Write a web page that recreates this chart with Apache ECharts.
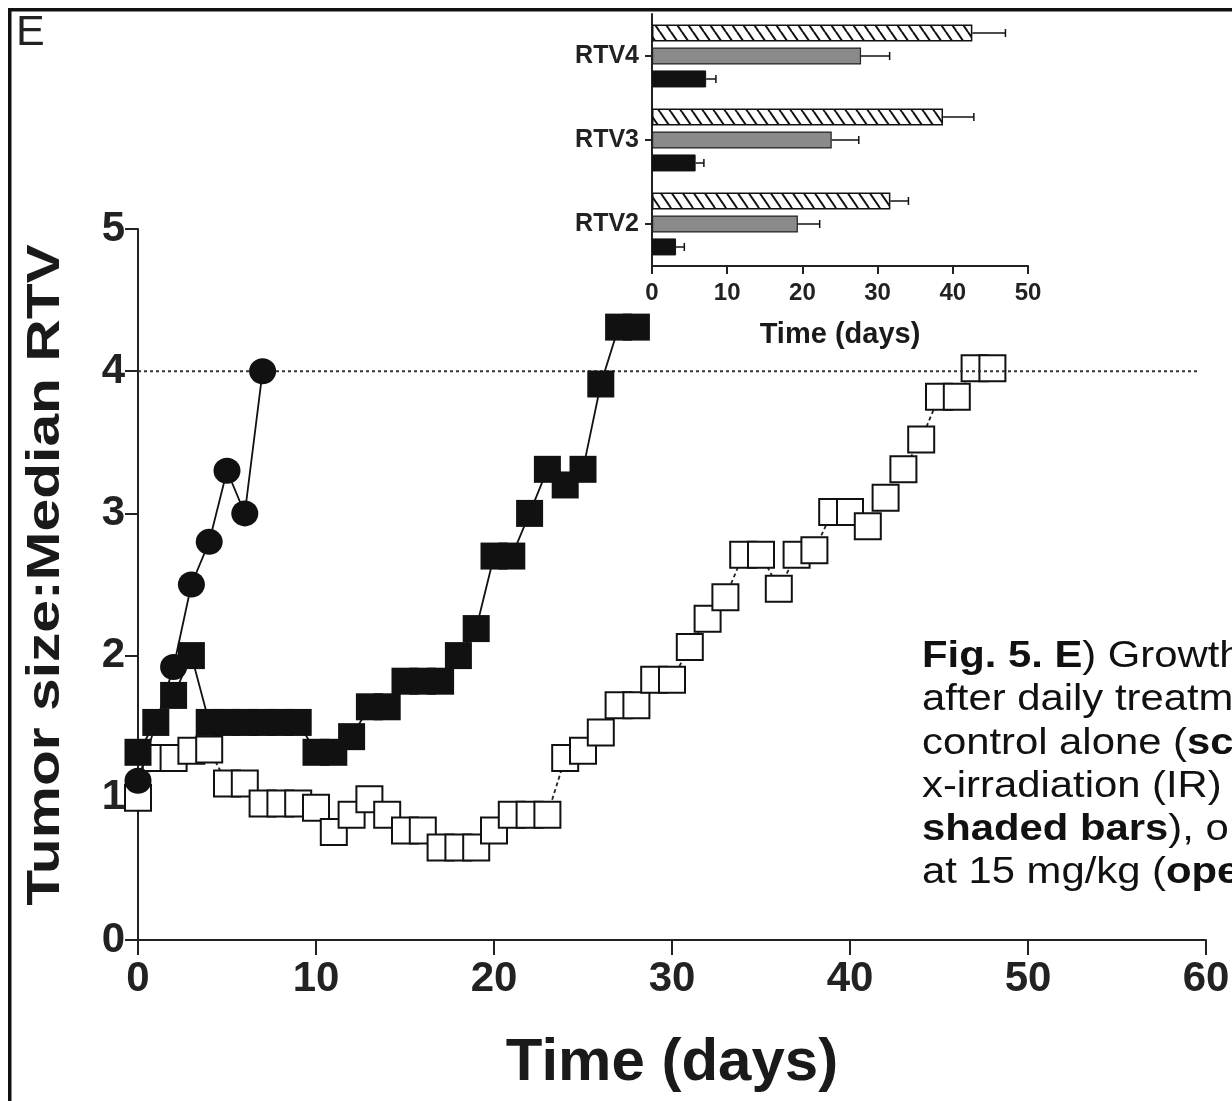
<!DOCTYPE html>
<html><head><meta charset="utf-8">
<script src="https://cdn.jsdelivr.net/npm/echarts/dist/echarts.min.js"></script>
<style>html,body{margin:0;padding:0;background:#fff}#c{width:1232px;height:1101px}</style>
</head><body><div id="c"></div>
<script>
// ---- main chart data (Time in days, median RTV) ----
const circleDays = [0, 2, 3, 4, 5, 6, 7];
const circleRTV  = [1.12, 1.92, 2.5, 2.8, 3.3, 3.0, 4.0];

const solidDays = [0,1,2,3,4,5,6,7,8,9,10,11,12,13,14,15,16,17,18,19,20,21,22,23,24,25,26,27,28];
const solidRTV  = [1.32,1.53,1.72,2.0,1.53,1.53,1.53,1.53,1.53,1.53,1.32,1.32,1.43,1.64,1.64,1.82,1.82,1.82,2.0,2.19,2.7,2.7,3.0,3.31,3.2,3.31,3.91,4.31,4.31];

const openDays = [0,1,2,3,4,5,6,7,8,9,10,11,12,13,14,15,16,17,18,19,20,21,22,23,24,25,26,27,28,29,30,31,32,33,34,35,36,37,38,39,40,41,42,43,44,45,46,47,48];
const openRTV  = [1.0,1.28,1.28,1.33,1.34,1.10,1.10,0.96,0.96,0.96,0.93,0.76,0.88,0.99,0.88,0.77,0.77,0.65,0.65,0.65,0.77,0.88,0.88,0.88,1.28,1.33,1.46,1.65,1.65,1.83,1.83,2.06,2.26,2.41,2.71,2.71,2.47,2.71,2.74,3.01,3.01,2.91,3.11,3.31,3.52,3.82,3.82,4.02,4.02];

const thresholdRTV = 4;
const thresholdSpan = [0, 59.5];

// ---- inset data (time in days to reach RTV2/3/4) ----
const rtvCategories = ['RTV2', 'RTV3', 'RTV4'];
const hatchedTime = [31.7, 38.7, 42.6];
const hatchedErr  = [2.4, 4.1, 4.4];
const shadedTime  = [19.4, 23.9, 27.8];
const shadedErr   = [2.9, 3.6, 3.8];
const solidTime   = [3.2, 5.8, 7.2];
const solidErr    = [1.1, 1.1, 1.3];

const captionLines = [
  '{b|Fig. 5. E}) Growth',
  'after daily treatm',
  'control alone ({b|sc}',
  'x-irradiation (IR)',
  '{b|shaded bars}), o',
  'at 15 mg/kg ({b|ope}'
];

const F = '"Liberation Sans", Arial, Helvetica, sans-serif';
const INK = '#1a1a1a';

// hatch pattern
const hc = document.createElement('canvas');
hc.width = 11; hc.height = 16;
const g = hc.getContext('2d');
g.fillStyle = '#fff'; g.fillRect(0, 0, 11, 16);
g.strokeStyle = '#111'; g.lineWidth = 2;
[[-11,0],[0,0],[11,0],[0,-16],[0,16]].forEach(([dx,dy]) => {
  g.beginPath(); g.moveTo(dx, dy); g.lineTo(dx + 11, dy + 16); g.stroke();
});

const barOffsets = [-23, 0, 23];
function errSeries(times, errs, offset) {
  return {
    type: 'custom', xAxisIndex: 1, yAxisIndex: 1, silent: true, z: 6,
    encode: { x: 1, y: 0 },
    data: rtvCategories.map((c, i) => [i, times[i], errs[i]]),
    renderItem: function (params, api) {
      const ci = api.value(0), v = api.value(1), e = api.value(2);
      const p0 = api.coord([v, ci]);
      const p1 = api.coord([v + e, ci]);
      const y = p0[1] + offset;
      return { type: 'group', children: [
        { type: 'line', shape: { x1: p0[0], y1: y, x2: p1[0], y2: y }, style: { stroke: '#111', lineWidth: 1.5 } },
        { type: 'line', shape: { x1: p1[0], y1: y - 4, x2: p1[0], y2: y + 4 }, style: { stroke: '#111', lineWidth: 1.5 } }
      ]};
    }
  };
}

const chart = echarts.init(document.getElementById('c'), null, { renderer: 'canvas' });

const graphics = [
  { type: 'rect', shape: { x: 8, y: 8, width: 1224, height: 3.5 }, style: { fill: '#111' } },
  { type: 'rect', shape: { x: 8, y: 8, width: 3.5, height: 1093 }, style: { fill: '#111' } },
  { type: 'text', x: 16, y: 33, style: { text: 'E', fontSize: 43, fontFamily: F, fill: '#222', align: 'left', verticalAlign: 'middle', textAlign: 'left', textVerticalAlign: 'middle' } },
  { type: 'text', x: 46, y: 575, rotation: Math.PI / 2, scaleX: 1.25,
    style: { text: 'Tumor size:Median RTV', fontSize: 47, fontWeight: 'bold', fontFamily: F, fill: INK, align: 'center', verticalAlign: 'middle', textAlign: 'center', textVerticalAlign: 'middle' } }
];
const capCenters = [657, 700, 743.5, 787, 830, 873];
captionLines.forEach((t, i) => {
  graphics.push({ type: 'text', x: 922, y: capCenters[i], scaleX: 1.13,
    style: { text: t, fontSize: 37, fontFamily: F, fill: '#111', align: 'left', verticalAlign: 'middle', textAlign: 'left', textVerticalAlign: 'middle',
      rich: { b: { fontSize: 37, fontWeight: 'bold', fontFamily: F, fill: '#111' } } } });
});

const option = {
  animation: false,
  backgroundColor: '#fff',
  grid: [
    { left: 138, top: 229, width: 1068, height: 711, containLabel: false, outerBoundsMode: 'none' },
    { left: 652, top: 14, width: 376, height: 252, containLabel: false, outerBoundsMode: 'none' }
  ],
  xAxis: [
    { gridIndex: 0, type: 'value', min: 0, max: 60, interval: 10,
      axisLine: { show: true, onZero: false, lineStyle: { color: '#222', width: 2 } },
      axisTick: { show: true, length: 15, lineStyle: { color: '#222', width: 2 } },
      axisLabel: { fontSize: 42, fontWeight: 'bold', color: '#222', margin: 18, fontFamily: F },
      splitLine: { show: false },
      name: 'Time (days)', nameLocation: 'middle', nameGap: 93,
      nameTextStyle: { fontSize: 60, fontWeight: 'bold', color: INK, fontFamily: F } },
    { gridIndex: 1, type: 'value', min: 0, max: 50, interval: 10,
      axisLine: { show: true, onZero: false, lineStyle: { color: '#222', width: 2 } },
      axisTick: { show: true, length: 8, lineStyle: { color: '#222', width: 2 } },
      axisLabel: { fontSize: 24, fontWeight: 'bold', color: '#222', margin: 15, fontFamily: F },
      splitLine: { show: false },
      name: 'Time (days)', nameLocation: 'middle', nameGap: 54,
      nameTextStyle: { fontSize: 29, fontWeight: 'bold', color: INK, fontFamily: F } }
  ],
  yAxis: [
    { gridIndex: 0, type: 'value', min: 0, max: 5, interval: 1,
      axisLine: { show: true, lineStyle: { color: '#222', width: 2 } },
      axisTick: { show: true, length: 13, lineStyle: { color: '#222', width: 2 } },
      axisLabel: { fontSize: 42, fontWeight: 'bold', color: '#222', margin: 13, fontFamily: F },
      splitLine: { show: false } },
    { gridIndex: 1, type: 'category', data: rtvCategories,
      axisLine: { show: true, lineStyle: { color: '#222', width: 2 } },
      axisTick: { show: true, length: 7, alignWithLabel: true, lineStyle: { color: '#222', width: 2 } },
      axisLabel: { fontSize: 25, fontWeight: 'bold', color: '#222', margin: 13, fontFamily: F },
      splitLine: { show: false } }
  ],
  series: [
    { name: 'open', type: 'line', xAxisIndex: 0, yAxisIndex: 0, silent: true, z: 2,
      data: openDays.map((d, i) => [d, openRTV[i]]),
      symbol: 'rect', symbolSize: 26, showSymbol: true, showAllSymbol: true,
      itemStyle: { color: '#fff', borderColor: '#111', borderWidth: 2 },
      lineStyle: { color: '#222', width: 1.8, type: [4, 3] } },
    { name: 'threshold', type: 'line', xAxisIndex: 0, yAxisIndex: 0, silent: true, z: 3,
      data: thresholdSpan.map(d => [d, thresholdRTV]), symbol: 'none',
      lineStyle: { color: '#333', width: 2, type: [3, 3] } },
    { name: 'circles', type: 'line', xAxisIndex: 0, yAxisIndex: 0, silent: true, z: 4,
      data: circleDays.map((d, i) => [d, circleRTV[i]]),
      symbol: 'circle', symbolSize: [27, 26], showSymbol: true,
      itemStyle: { color: '#111' },
      lineStyle: { color: '#111', width: 1.8 } },
    { name: 'solidSquares', type: 'line', xAxisIndex: 0, yAxisIndex: 0, silent: true, z: 5,
      data: solidDays.map((d, i) => [d, solidRTV[i]]),
      symbol: 'rect', symbolSize: 27, showSymbol: true, showAllSymbol: true,
      itemStyle: { color: '#111' },
      lineStyle: { color: '#111', width: 1.8 } },
    { name: 'hatched', type: 'bar', xAxisIndex: 1, yAxisIndex: 1, silent: true, z: 5,
      data: hatchedTime, barWidth: 17, barGap: '35%',
      itemStyle: { color: { image: hc, repeat: 'repeat' }, borderColor: '#111', borderWidth: 1.5 } },
    { name: 'shaded', type: 'bar', xAxisIndex: 1, yAxisIndex: 1, silent: true, z: 5,
      data: shadedTime, barWidth: 17, barGap: '35%',
      itemStyle: { color: '#8a8a8a', borderColor: '#222', borderWidth: 1.2 } },
    { name: 'solidBar', type: 'bar', xAxisIndex: 1, yAxisIndex: 1, silent: true, z: 5,
      data: solidTime, barWidth: 17, barGap: '35%',
      itemStyle: { color: '#111', borderColor: '#111', borderWidth: 1 } },
    errSeries(hatchedTime, hatchedErr, barOffsets[0]),
    errSeries(shadedTime, shadedErr, barOffsets[1]),
    errSeries(solidTime, solidErr, barOffsets[2])
  ],
  graphic: graphics
};
chart.setOption(option);
</script>
</body></html>
